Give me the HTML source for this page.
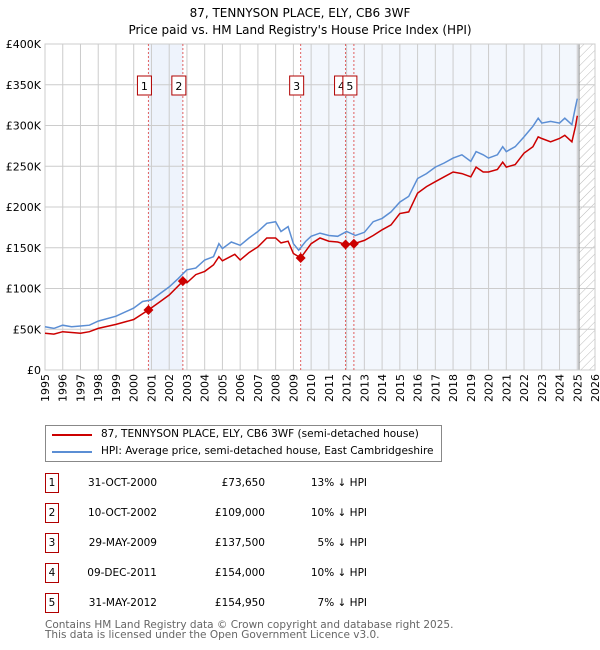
<!DOCTYPE html>
<html><head><meta charset="utf-8"><style>
body{margin:0;background:#fff;font-family:"DejaVu Sans","Liberation Sans",sans-serif;}
#wrap{position:relative;width:600px;height:650px;overflow:hidden}
.t{position:absolute;font-size:10.5px;color:#000;white-space:nowrap}
</style></head><body>
<div id="wrap">
<svg id="chart" width="600" height="420" style="position:absolute;left:0;top:0;font-family:'DejaVu Sans',sans-serif">
<text x="300" y="17" text-anchor="middle" font-size="12">87, TENNYSON PLACE, ELY, CB6 3WF</text>
<text x="300" y="34" text-anchor="middle" font-size="12">Price paid vs. HM Land Registry's House Price Index (HPI)</text>
</svg>
<div style="position:absolute;left:45px;top:425px;width:397px;height:37px;border:1px solid #888;box-sizing:border-box">
 <div style="position:absolute;left:6px;top:8px;width:40px;height:2px;background:#cc0000"></div>
 <div class="t" style="left:55px;top:2px">87, TENNYSON PLACE, ELY, CB6 3WF (semi-detached house)</div>
 <div style="position:absolute;left:6px;top:25px;width:40px;height:2px;background:#5b8ed4"></div>
 <div class="t" style="left:55px;top:19px">HPI: Average price, semi-detached house, East Cambridgeshire</div>
</div>
<div id="table"></div>
<div class="t" style="left:45px;top:620px;color:#666;line-height:10px">Contains HM Land Registry data © Crown copyright and database right 2025.<br>This data is licensed under the Open Government Licence v3.0.</div>
</div>
<script>
const hpiYears=[1995,1995.5,1996,1996.5,1997,1997.5,1998,1999,2000,2000.5,2001,2001.5,2002,2002.5,2003,2003.5,2004,2004.5,2004.8,2005,2005.5,2006,2006.5,2007,2007.5,2008,2008.3,2008.7,2009,2009.3,2009.7,2010,2010.5,2011,2011.5,2012,2012.5,2013,2013.5,2014,2014.5,2015,2015.5,2016,2016.5,2017,2017.5,2018,2018.5,2019,2019.3,2019.7,2020,2020.5,2020.8,2021,2021.5,2022,2022.5,2022.8,2023,2023.5,2024,2024.3,2024.7,2024.9,2025.0];
const hpiValues=[53,51,55,53,54,55,60,66,76,84,86,94,102,112,123,125,135,139,155,149,157,153,162,170,180,182,170,176,155,147,158,164,168,165,164,170,165,169,182,186,194,206,213,235,241,249,254,260,264,256,268,264,260,264,274,268,274,286,299,309,303,305,303,309,301,323,333];
const propYears=[1995,1995.5,1996,1996.5,1997,1997.5,1998,1999,2000,2000.83,2001.5,2002,2002.77,2003,2003.5,2004,2004.5,2004.8,2005,2005.7,2006,2006.5,2007,2007.5,2008,2008.3,2008.7,2009,2009.41,2010,2010.5,2011,2011.5,2011.94,2012.41,2013,2013.5,2014,2014.5,2015,2015.5,2016,2016.5,2017,2017.5,2018,2018.5,2019,2019.3,2019.7,2020,2020.5,2020.8,2021,2021.5,2022,2022.5,2022.8,2023,2023.5,2024,2024.3,2024.7,2024.9,2025.0];
const propValues=[45,44,47,46,45,47,51,56,62,73.65,84,92,109,107,117,121,129,139,134,142,135,144,151,162,162,156,158,143,137.5,155,162,158,157,154,154.95,159,165,172,178,192,194,217,225,231,237,243,241,237,249,243,243,246,255,249,252,266,274,286,284,280,284,288,280,299,312];
const saleYears=[2000.83,2002.77,2009.41,2011.94,2012.41];
const salePrices=[73650,109000,137500,154000,154950];
const saleDates=["31-OCT-2000","10-OCT-2002","29-MAY-2009","09-DEC-2011","31-MAY-2012"];
const salePct=["13% \u2193 HPI","10% \u2193 HPI","5% \u2193 HPI","10% \u2193 HPI","7% \u2193 HPI"];
const yTicks=[0,50,100,150,200,250,300,350,400];
const yTickLabels=["£0","£50K","£100K","£150K","£200K","£250K","£300K","£350K","£400K"];
const xTicks=[1995,1996,1997,1998,1999,2000,2001,2002,2003,2004,2005,2006,2007,2008,2009,2010,2011,2012,2013,2014,2015,2016,2017,2018,2019,2020,2021,2022,2023,2024,2025,2026];

const L=45,R=595,T=44,B=370;
const X=y=>L+(y-1995)/(2026-1995)*(R-L);
const Y=v=>B-v/400*(B-T);
const svg=document.getElementById('chart');
const NS='http://www.w3.org/2000/svg';
function mk(tag,attrs,parent){const e=document.createElementNS(NS,tag);for(const k in attrs)e.setAttribute(k,attrs[k]);(parent||svg).appendChild(e);return e;}

const defs=mk('defs',{});
const pat=mk('pattern',{id:'hatch',width:6,height:6,patternUnits:'userSpaceOnUse',patternTransform:'rotate(45)'},defs);
mk('line',{x1:0,y1:0,x2:0,y2:6,stroke:'#bbb','stroke-width':1},pat);

let e=mk('rect',{x:X(saleYears[0]),y:T,width:X(saleYears[1])-X(saleYears[0]),height:B-T,fill:'#eef3fc'});


e=mk('rect',{x:X(saleYears[2]),y:T,width:X(2025.1)-X(saleYears[2]),height:B-T,fill:'#f3f7fd'});


e=mk('rect',{x:X(2025.1),y:T,width:R-X(2025.1),height:B-T,fill:'url(#hatch)'});



yTicks.forEach((v,i)=>{
 const g=mk('line',{x1:L,x2:R,y1:Y(v),y2:Y(v),stroke:'#ccc','stroke-width':1});
 
 
 const t=mk('text',{x:L-4,y:Y(v)+4,'text-anchor':'end','font-size':11});
 t.textContent=yTickLabels[i];
 
 
});
xTicks.forEach(yr=>{
 const g=mk('line',{x1:X(yr),x2:X(yr),y1:T,y2:B,stroke:'#ccc','stroke-width':1});
 
 
 const t=mk('text',{x:0,y:0,'text-anchor':'end','font-size':11,transform:`translate(${X(yr)+4},${B+4}) rotate(-90)`});
 t.textContent=yr;
 
 
});
e=mk('line',{x1:X(2025.1),x2:X(2025.1),y1:T,y2:B,stroke:'#888','stroke-width':1});


e=mk('rect',{x:L,y:T,width:R-L,height:B-T,fill:'none',stroke:'#ccc'});



saleYears.forEach((yr,i)=>{
 const d=mk('line',{x1:X(yr),x2:X(yr),y1:T,y2:B,stroke:'#e06060','stroke-width':1,'stroke-dasharray':'2,2'});
 
 
});

function path(xs,vs){return xs.map((x,i)=>(i?'L':'M')+X(x).toFixed(1)+','+Y(vs[i]).toFixed(1)).join('');}
e=mk('path',{d:path(hpiYears,hpiValues),fill:'none',stroke:'#5b8ed4','stroke-width':1.5});


e=mk('path',{d:path(propYears,propValues),fill:'none',stroke:'#cc0000','stroke-width':1.5});



saleYears.forEach((yr,i)=>{
 const cx=X(yr),cy=Y(salePrices[i]/1000);
 const p=mk('path',{d:`M${cx},${cy-5}L${cx+5},${cy}L${cx},${cy+5}L${cx-5},${cy}Z`,fill:'#cc0000'});
 
 
 const bx=mk('rect',{x:cx-11,y:76,width:14,height:19,fill:'#fff',stroke:'#b00000','stroke-width':1});
 
 
 const t=mk('text',{x:cx-4,y:90,'text-anchor':'middle','font-size':11});
 t.textContent=i+1;
 
 
});

const tbl=document.getElementById('table');
saleDates.forEach((d,i)=>{
 const cy=483+30*i;
 const row=document.createElement('div');
 
 
 row.style.cssText=`position:absolute;left:0;top:${cy-10}px;width:600px;height:20px;font-size:10.5px`;
 row.innerHTML=`<div style="position:absolute;left:45px;top:0;width:14px;height:20px;border:1px solid #b00000;box-sizing:border-box;text-align:center;line-height:18px">${i+1}</div>
 <div style="position:absolute;left:57px;width:100px;text-align:right;line-height:20px">${d}</div>
 <div style="position:absolute;left:165px;width:100px;text-align:right;line-height:20px">£${salePrices[i].toLocaleString('en-GB')}</div>
 <div style="position:absolute;left:267px;width:100px;text-align:right;line-height:20px">${salePct[i]}</div>`;
 tbl.appendChild(row);
});
</script>
</body></html>
